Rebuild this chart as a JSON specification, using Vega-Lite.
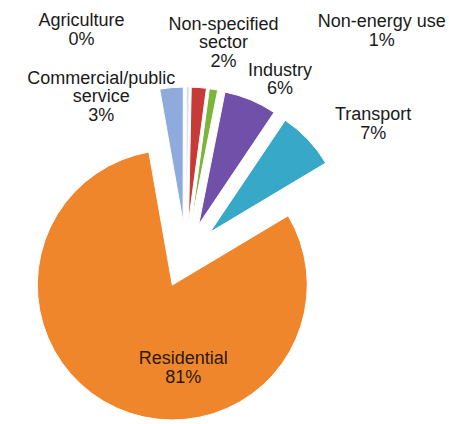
{
  "$schema": "https://vega.github.io/schema/vega-lite/v6.json",
  "width": 372,
  "height": 338,
  "autosize": {"type": "none"},
  "padding": {"left": 0, "top": 86, "right": 77, "bottom": 0},
  "background": "white",
  "config": {"view": {"stroke": null}},
  "data": {
    "values": [
      {"sector": "Commercial/public service", "label": "Commercial/public|service", "value": 2.8, "order": 1},
      {"sector": "Agriculture", "label": "Agriculture", "value": 0.3, "order": 2},
      {"sector": "Non-specified sector", "label": "Non-specified|sector", "value": 1.8, "order": 3},
      {"sector": "Non-energy use", "label": "Non-energy use", "value": 1.0, "order": 4},
      {"sector": "Industry", "label": "Industry", "value": 6.3, "order": 5},
      {"sector": "Transport", "label": "Transport", "value": 7.0, "order": 6},
      {"sector": "Residential", "label": "Residential", "value": 80.8, "order": 7}
    ]
  },
  "transform": [
    {"stack": "value", "groupby": [], "sort": [{"field": "order", "order": "ascending"}], "as": ["start", "end"]},
    {"calculate": "(datum.start + datum.end) / 2", "as": "mid"},
    {"calculate": "datum.label + '|' + format(datum.value, '.0f') + '%'", "as": "txt"}
  ],
  "layer": [
    {
      "encoding": {
        "theta": {"field": "start", "type": "quantitative", "scale": {"domain": [0, 100], "range": [-0.1745, 6.1087]}},
        "theta2": {"field": "end"},
        "color": {
          "field": "sector", "type": "nominal", "legend": null,
          "scale": {
            "domain": ["Commercial/public service", "Agriculture", "Non-specified sector", "Non-energy use", "Industry", "Transport", "Residential"],
            "range": ["#8FAADC", "#D5DEEC", "#C63B35", "#7DB43C", "#7050A8", "#38A8C8", "#F0862C"]
          }
        }
      },
      "layer": [
        {"transform": [{"filter": "datum.sector === 'Commercial/public service'"}], "mark": {"type": "arc", "radius": 135, "stroke": "white", "strokeWidth": 1, "xOffset": -2.9, "yOffset": -32.9}},
        {"transform": [{"filter": "datum.sector === 'Agriculture'"}], "mark": {"type": "arc", "radius": 135, "stroke": "white", "strokeWidth": 0.5, "xOffset": 0.4, "yOffset": -33}},
        {"transform": [{"filter": "datum.sector === 'Non-specified sector'"}], "mark": {"type": "arc", "radius": 135, "stroke": "white", "strokeWidth": 1, "xOffset": 2.5, "yOffset": -32.9}},
        {"transform": [{"filter": "datum.sector === 'Non-energy use'"}], "mark": {"type": "arc", "radius": 135, "stroke": "white", "strokeWidth": 1, "xOffset": 5.4, "yOffset": -32.5}},
        {"transform": [{"filter": "datum.sector === 'Industry'"}], "mark": {"type": "arc", "radius": 135, "stroke": "white", "strokeWidth": 1, "xOffset": 12.7, "yOffset": -30.5}},
        {"transform": [{"filter": "datum.sector === 'Transport'"}], "mark": {"type": "arc", "radius": 135, "stroke": "white", "strokeWidth": 1, "xOffset": 23.9, "yOffset": -22.7}},
        {"transform": [{"filter": "datum.sector === 'Residential'"}], "mark": {"type": "arc", "radius": 135, "stroke": "white", "strokeWidth": 1, "xOffset": -13.7, "yOffset": 30}}
      ]
    },
    {
      "encoding": {
        "theta": {"field": "mid", "type": "quantitative"},
        "text": {"field": "txt", "type": "nominal"}
      },
      "layer": [
        {"transform": [{"filter": "datum.sector === 'Commercial/public service'"}], "mark": {"type": "text", "radius": 170, "dx": -70, "dy": -7, "lineBreak": "|", "font": "Liberation Sans", "fontSize": 18, "lineHeight": 18.5, "color": "#1a1a1a", "align": "center", "baseline": "middle"}},
        {"transform": [{"filter": "datum.sector === 'Agriculture'"}], "mark": {"type": "text", "radius": 230, "dx": -107, "dy": -4, "lineBreak": "|", "font": "Liberation Sans", "fontSize": 18, "lineHeight": 18.5, "color": "#1a1a1a", "align": "center", "baseline": "middle"}},
        {"transform": [{"filter": "datum.sector === 'Non-specified sector'"}], "mark": {"type": "text", "radius": 215, "dx": 21, "dy": -16, "lineBreak": "|", "font": "Liberation Sans", "fontSize": 18, "lineHeight": 18.5, "color": "#1a1a1a", "align": "center", "baseline": "middle"}},
        {"transform": [{"filter": "datum.sector === 'Non-energy use'"}], "mark": {"type": "text", "radius": 230, "dx": 158, "dy": -6, "lineBreak": "|", "font": "Liberation Sans", "fontSize": 18, "lineHeight": 18.5, "color": "#1a1a1a", "align": "center", "baseline": "middle"}},
        {"transform": [{"filter": "datum.sector === 'Industry'"}], "mark": {"type": "text", "radius": 190, "dx": 21, "dy": -9, "lineBreak": "|", "font": "Liberation Sans", "fontSize": 18, "lineHeight": 18.5, "color": "#1a1a1a", "align": "center", "baseline": "middle"}},
        {"transform": [{"filter": "datum.sector === 'Transport'"}], "mark": {"type": "text", "radius": 200, "dx": 42, "dy": -2, "lineBreak": "|", "font": "Liberation Sans", "fontSize": 18, "lineHeight": 18.5, "color": "#1a1a1a", "align": "center", "baseline": "middle"}},
        {"transform": [{"filter": "datum.sector === 'Residential'"}], "mark": {"type": "text", "radius": 110, "dx": 43, "dy": 4, "lineBreak": "|", "font": "Liberation Sans", "fontSize": 18, "lineHeight": 18.5, "color": "#2b1a0c", "align": "center", "baseline": "middle"}}
      ]
    }
  ]
}
